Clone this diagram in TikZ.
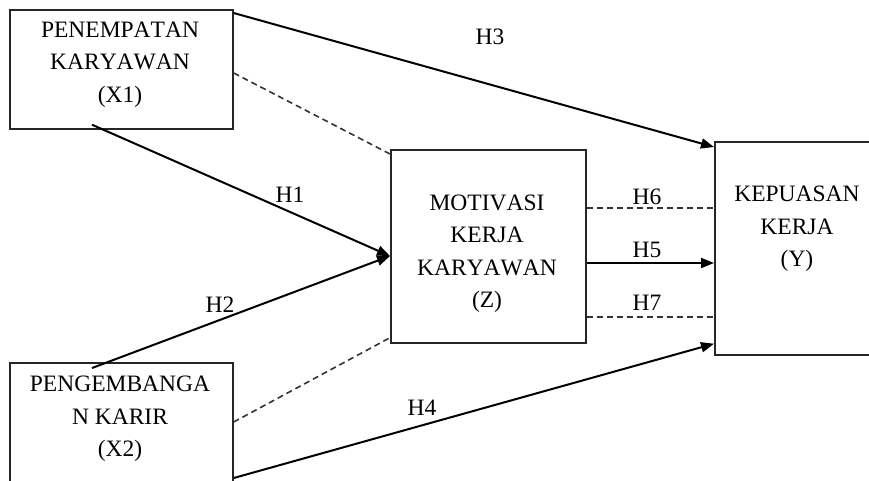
\documentclass[tikz,border=0pt]{standalone}
\usepackage{fontspec}
\setmainfont{Liberation Serif}[Kerning=Off]
\usetikzlibrary{arrows.meta,calc}
\begin{document}
\begin{tikzpicture}[x=1pt,y=-1pt,
  box/.style={draw=black!85,line width=1.7pt,inner sep=0pt,anchor=north west},
  txt/.style={align=center,font=\fontsize{23.5}{32.5}\selectfont,inner sep=0pt},
  lab/.style={font=\fontsize{23.5}{28}\selectfont,inner sep=0pt},
  solidarrow/.style={line width=2pt,-{Triangle[length=13pt,width=10pt]}},
  dashline/.style={line width=1.6pt,dash pattern=on 6pt off 4pt,draw=black!80}
]
\useasboundingbox (0,0) rectangle (869,480);
% boxes
\node[box,minimum width=223pt,minimum height=119pt] (x1) at (9,9) {};
\node[box,minimum width=223pt,minimum height=122pt] (x2) at (9,362) {};
\node[box,minimum width=195pt,minimum height=193pt] (z) at (390,149) {};
\node[box,minimum width=166pt,minimum height=213pt] (yb) at (714,141) {};
% texts
\node[txt] (tx1) at (120,64.5) {PENEMPATAN\\KARYAWAN\\(X1)};
\node[txt] (tx2) at (120,419) {PENGEMBANGA\\N KARIR\\(X2)};
\node[txt] (tz) at (487,253.5) {MOTIVASI\\KERJA\\KARYAWAN\\(Z)};
\node[txt] (ty) at (797,229) {KEPUASAN\\KERJA\\(Y)};
% connectors
\coordinate (zin) at ($(z.north west)+(0,107)$);
\draw[solidarrow] ($(x1.north east)+(0,4)$) -- ($(yb.north west)+(0,6)$);
\draw[dashline] ($(x1.north east)+(0,64)$) -- ($(z.north west)+(0,5)$);
\draw[solidarrow] ($(x1.south west)+(83,-5)$) -- (zin);
\draw[solidarrow] ($(x2.north west)+(83,6)$) -- (zin);
\draw[dashline] ($(x2.north east)+(0,60)$) -- ($(z.south west)+(0,-6)$);
\draw[solidarrow] ($(x2.north east)+(0,116)$) -- ($(yb.south west)+(0,-12)$);
\draw[dashline] ($(z.north east)+(0,59)$) -- ($(yb.north west)+(0,67)$);
\draw[solidarrow] ($(z.north east)+(0,114)$) -- ($(yb.north west)+(0,122)$);
\draw[dashline] ($(z.north east)+(0,168)$) -- ($(yb.north west)+(0,176)$);
% labels
\node[lab] (h3) at (490,37) {H3};
\node[lab] (h1) at (290,195) {H1};
\node[lab] (h2) at (220,305) {H2};
\node[lab] (h4) at (422,408) {H4};
\node[lab] (h6) at (647,197) {H6};
\node[lab] (h5) at (647,250) {H5};
\node[lab] (h7) at (647,303) {H7};
\end{tikzpicture}
\end{document}
